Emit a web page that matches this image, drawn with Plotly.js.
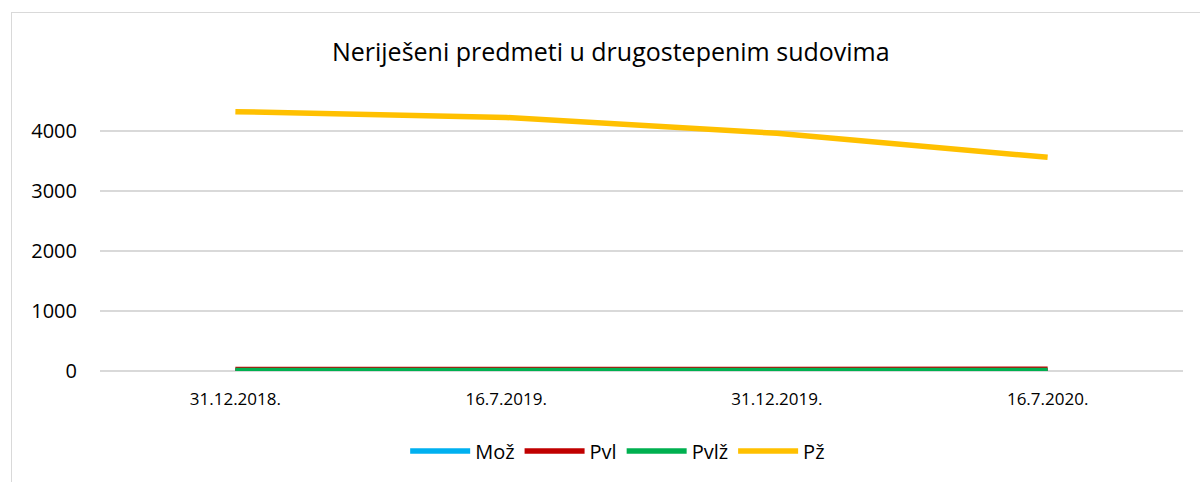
<!DOCTYPE html>
<html>
<head>
<meta charset="utf-8">
<script src="https://cdn.plot.ly/plotly-3.0.1.min.js"></script>
<style>
  html, body { margin: 0; padding: 0; background: #fff; overflow: hidden; }
  #frame { position: absolute; left: 11px; top: 12px; width: 1200px; height: 490px; border: 1px solid #d9d9d9; box-sizing: border-box; }
  #chart { position: absolute; left: 0; top: 0; width: 1200px; height: 482px; }
</style>
</head>
<body>
<div id="frame"></div>
<div id="chart"></div>
<script>
const categories = ["31.12.2018.", "16.7.2019.", "31.12.2019.", "16.7.2020."];
const seriesNames = ["Mož", "Pvl", "Pvlž", "Pž"];
const moz  = [2, 2, 2, 2];
const pvl  = [25, 28, 38, 28];
const pvlz = [7, 7, 9, 7];
const pz   = [4322, 4225, 3962, 3562];
const colors = ["#00b0f0", "#c00000", "#00b050", "#ffc000"];

const font = "'Open Sans', sans-serif";
const values = [moz, pvl, pvlz, pz];
const traces = values.map((v, i) => ({
  x: categories, y: v, name: seriesNames[i], type: "scatter", mode: "lines",
  line: { color: colors[i], width: 5.5 }
}));

const layout = {
  width: 1200, height: 482,
  paper_bgcolor: "rgba(0,0,0,0)", plot_bgcolor: "rgba(0,0,0,0)",
  margin: { l: 100, r: 17, t: 80, b: 111 },
  title: { text: "Neriješeni predmeti u drugostepenim sudovima", x: 0.509, xanchor: "center", y: 0.892, yanchor: "middle",
           font: { family: font, size: 25, color: "#000" } },
  xaxis: { type: "category", range: [-0.5, 3.5], showgrid: false, zeroline: false, showline: false,
           ticks: "", ticklabelstandoff: 16, tickfont: { family: font, size: 17, color: "#000" }, automargin: false, fixedrange: true },
  yaxis: { range: [0, 4850], dtick: 1000, tick0: 0, showgrid: true, gridcolor: "#d9d9d9", gridwidth: 2,
           zeroline: true, zerolinecolor: "#d9d9d9", zerolinewidth: 2, showline: false, ticks: "",
           ticklabelstandoff: 22, tickfont: { family: font, size: 20, color: "#000" }, automargin: false, fixedrange: true },
  showlegend: true,
  legend: { orientation: "h", x: 0.478, xanchor: "center", y: -0.275, yanchor: "middle",
            font: { family: font, size: 20, color: "#000" }, itemwidth: 60, tracegroupgap: 0 }
};
Plotly.newPlot("chart", traces, layout, { displayModeBar: false, staticPlot: true });
</script>
</body>
</html>
